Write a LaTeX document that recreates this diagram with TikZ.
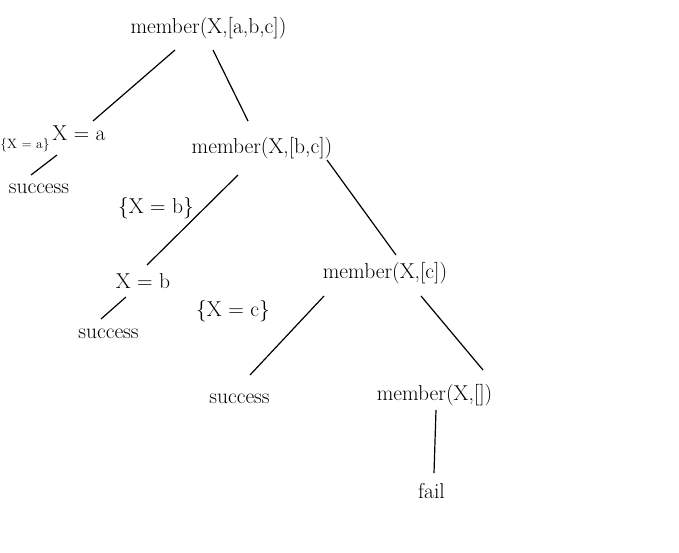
\documentclass[tikz,border=0pt]{standalone}
\usepackage{fontspec}
\usepackage{tikz}

\begin{document}
\begin{tikzpicture}[
        x=1pt, y=-1pt,
        term/.style={inner sep=0pt, anchor=base, font=\fontsize{21.5}{24}\selectfont},
        subst/.style={term, font=\fontsize{13.5}{15}\selectfont},
        edge/.style={line width=1.2pt}
    ]
        \useasboundingbox (0,0) rectangle (679,552);

        % Goals
        \node[term] (root) at (208.5,33) {member(X,[a,b,c])};
        \node[term] (mbc) at (262,153) {member(X,[b,c])};
        \node[term] (mc) at (385,278) {member(X,[c])};
        \node[term] (mnil) at (434.5,400) {member(X,[])};

        % Unifications
        \node[term] (xa) at (79,140) {X = a};
        \node[term] (xb) at (143,288) {X = b};

        % Substitutions
        \node[subst] (sa) at (25,148) {\{X = a\}};
        \node[term] (sb) at (156,213) {\{X = b\}};
        \node[term] (sc) at (233,316) {\{X = c\}};

        % Leaves
        \node[term] (succa) at (39,193) {success};
        \node[term] (succb) at (108.5,338) {success};
        \node[term] (succc) at (239.5,403) {success};
        \node[term] (fail) at (431.5,498) {fail};

        % Branches
        \draw[edge] ([shift={(-33.5,17)}]root.base) -- ([shift={(14,-19)}]xa.base);
        \draw[edge] ([shift={(4.5,17)}]root.base) -- ([shift={(-14,-32)}]mbc.base);
        \draw[edge] ([shift={(-22,15)}]xa.base) -- ([shift={(-8,-18)}]succa.base);
        \draw[edge] ([shift={(-24,22)}]mbc.base) -- ([shift={(4,-23)}]xb.base);
        \draw[edge] ([shift={(65,7)}]mbc.base) -- ([shift={(11,-23)}]mc.base);
        \draw[edge] ([shift={(-17,9)}]xb.base) -- ([shift={(-7.5,-19)}]succb.base);
        \draw[edge] ([shift={(-61,18)}]mc.base) -- ([shift={(10.5,-28)}]succc.base);
        \draw[edge] ([shift={(36,18)}]mc.base) -- ([shift={(48.5,-30)}]mnil.base);
        \draw[edge] ([shift={(1.5,10)}]mnil.base) -- ([shift={(2.5,-25)}]fail.base);

    \end{tikzpicture}
\end{document}
